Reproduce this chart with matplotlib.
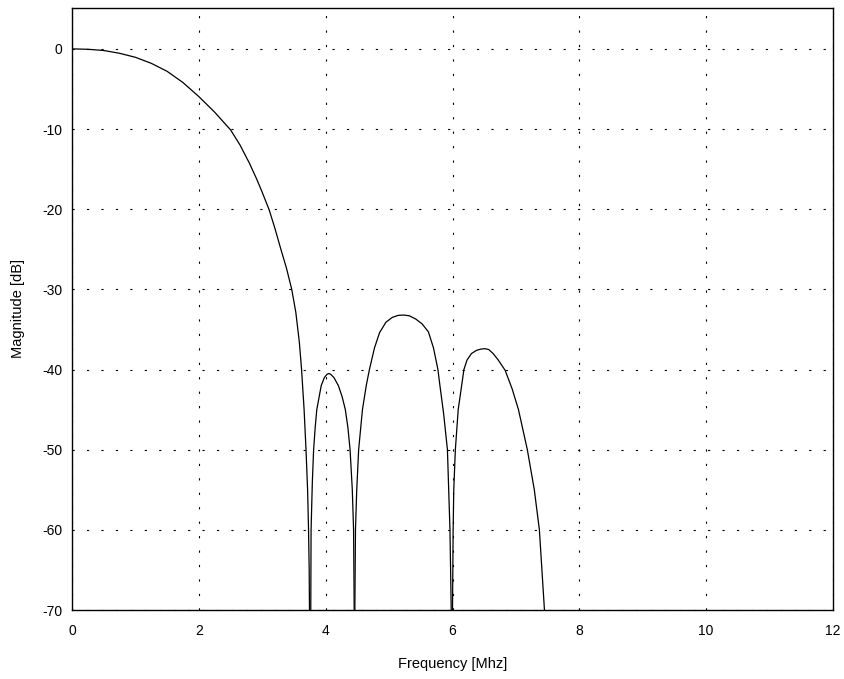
import matplotlib
matplotlib.use('Agg')
import matplotlib.pyplot as plt

# main lobe and three side lobes (freq MHz, dB)
main_f = [0.0, 0.25, 0.5, 0.75, 1.0, 1.25, 1.5, 1.75, 2.0, 2.25, 2.5, 2.65, 2.8, 2.91, 3.0, 3.11, 3.2, 3.29, 3.38, 3.465, 3.53, 3.585, 3.62, 3.66, 3.69, 3.715, 3.73, 3.74, 3.745]
main_db = [0.0, -0.05, -0.2, -0.55, -1.05, -1.8, -2.8, -4.2, -5.95, -7.9, -10.1, -12.0, -14.3, -16.2, -17.9, -20.1, -22.4, -24.9, -27.3, -30.0, -32.9, -36.6, -40.0, -45.0, -50.0, -55.0, -60.0, -65.0, -70.0]

lobe1_f = [3.765, 3.77, 3.79, 3.81, 3.835, 3.86, 3.93, 3.98, 4.02, 4.05, 4.08, 4.13, 4.20, 4.26, 4.31, 4.35, 4.385, 4.42, 4.44, 4.45]
lobe1_db = [-70.0, -60.0, -54.0, -50.0, -47.2, -45.0, -42.0, -41.0, -40.6, -40.5, -40.6, -41.0, -42.0, -43.4, -45.0, -47.2, -50.0, -55.0, -60.0, -70.0]

lobe2_f = [4.46, 4.47, 4.49, 4.52, 4.58, 4.64, 4.69, 4.77, 4.85, 4.95, 5.05, 5.14, 5.23, 5.32, 5.42, 5.52, 5.62, 5.70, 5.77, 5.80, 5.86, 5.92, 5.96, 5.98]
lobe2_db = [-70.0, -60.0, -55.0, -50.0, -45.0, -42.0, -40.0, -37.3, -35.4, -34.1, -33.5, -33.25, -33.2, -33.3, -33.7, -34.3, -35.3, -37.3, -40.0, -41.9, -45.5, -50.0, -60.0, -70.0]

lobe3_f = [6.0, 6.01, 6.02, 6.045, 6.09, 6.18, 6.23, 6.30, 6.38, 6.45, 6.51, 6.57, 6.64, 6.72, 6.83, 6.94, 7.04, 7.11, 7.18, 7.29, 7.37, 7.41, 7.45]
lobe3_db = [-70.0, -60.0, -55.0, -50.0, -45.0, -40.0, -38.8, -38.0, -37.6, -37.45, -37.4, -37.5, -38.0, -38.8, -40.1, -42.4, -45.0, -47.5, -50.0, -55.0, -60.0, -65.0, -70.0]

xticks = [0, 2, 4, 6, 8, 10, 12]
yticks = [0, -10, -20, -30, -40, -50, -60, -70]

plt.rcParams['font.family'] = ['Liberation Sans', 'DejaVu Sans']
plt.rcParams['axes.unicode_minus'] = False

fig = plt.figure(figsize=(8.44, 6.79), dpi=100)
ax = fig.add_axes([72 / 844, 69 / 679, 761 / 844, 602 / 679])

for f, db in [(main_f, main_db), (lobe1_f, lobe1_db), (lobe2_f, lobe2_db), (lobe3_f, lobe3_db)]:
    ax.plot(f, db, color='black', linewidth=0.9, solid_joinstyle='round')

ax.set_xlim(0, 12)
ax.set_ylim(-70, 5.1)
ax.set_xticks(xticks)
ax.set_yticks(yticks)
ax.tick_params(direction='in', length=0, labelsize=10)
ax.tick_params(axis='x', pad=10)
ax.tick_params(axis='y', pad=7)
ax.grid(True, color='black', linestyle=(0, (2, 11)), linewidth=0.8)
for s in ax.spines.values():
    s.set_linewidth(1.0)

ax.set_xlabel('Frequency [Mhz]', fontsize=10.5, labelpad=14)
ax.set_ylabel('Magnitude [dB]', fontsize=10.5, labelpad=12)

fig.savefig('out.png', dpi=100)
